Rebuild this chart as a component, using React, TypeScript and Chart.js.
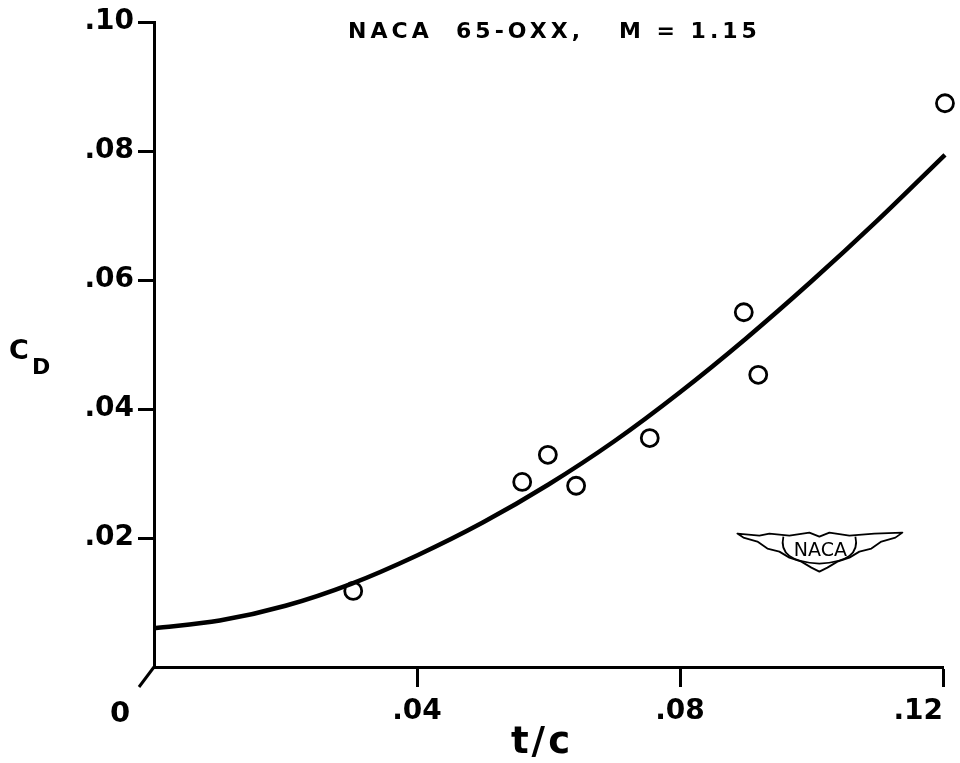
import React, { useEffect, useRef } from "react";
import { Chart, registerables } from "chart.js";

Chart.register(...registerables);

// Measured data points (t/c, C_D)
const pointTC = [0.0303, 0.056, 0.0599, 0.0642, 0.0754, 0.0897, 0.0919, 0.1203];
const pointCD = [0.0118, 0.0287, 0.0329, 0.0281, 0.0355, 0.055, 0.0453, 0.0874];

// Faired curve
const curveTC = [0, 0.01, 0.02, 0.03, 0.04, 0.05, 0.06, 0.07, 0.08, 0.09, 0.1, 0.11, 0.1203];
const curveCD = [0.006, 0.0072, 0.0095, 0.0129, 0.0173, 0.0224, 0.0283, 0.035, 0.0426, 0.0509, 0.0598, 0.0692, 0.0794];

const xTicks = [0, 0.04, 0.08, 0.12];
const yTicks = [0, 0.02, 0.04, 0.06, 0.08, 0.1];

const titleText = "NACA  65-OXX,   M = 1.15";
const xTitle = "t/c";
const yTitleMain = "C";
const yTitleSub = "D";
const logoText = "NACA";
const logoAt = { x: 0.1012, y: 0.0182 };

const FONT = "'DejaVu Sans', sans-serif";

const fmt = (v: number) => {
  const n = Math.round(v * 100);
  if (n === 0) return "";
  return "." + String(n).padStart(2, "0");
};

const decorPlugin = {
  id: "decor",
  afterDraw(chart: any) {
    const { ctx, chartArea, scales } = chart;
    const xs = scales.x;
    const ys = scales.y;
    const x0 = xs.getPixelForValue(0);
    const y0 = ys.getPixelForValue(0);
    ctx.save();
    ctx.fillStyle = "#000";
    ctx.strokeStyle = "#000";

    // diagonal origin tick
    ctx.lineWidth = 3;
    ctx.beginPath();
    ctx.moveTo(x0, y0);
    ctx.lineTo(x0 - 15, y0 + 20);
    ctx.stroke();

    // origin "0" label
    ctx.font = `bold 29px ${FONT}`;
    ctx.textAlign = "center";
    ctx.textBaseline = "alphabetic";
    ctx.fillText("0", x0 - 34, y0 + 55);

    // title
    const cx = (chartArea.left + chartArea.right) / 2 + 6;
    ctx.font = `bold 22px ${FONT}`;
    (ctx as any).letterSpacing = "4px";
    ctx.textAlign = "center";
    ctx.fillText(titleText, cx, chartArea.top + 16);

    // x title
    ctx.font = `bold 37px ${FONT}`;
    (ctx as any).letterSpacing = "3px";
    ctx.fillText(xTitle, 542, 753);

    // y title C_D
    (ctx as any).letterSpacing = "0px";
    ctx.textAlign = "left";
    ctx.font = `bold 27px ${FONT}`;
    ctx.fillText(yTitleMain, 9, 359);
    ctx.font = `bold 22px ${FONT}`;
    ctx.fillText(yTitleSub, 32, 374);

    // NACA logo
    const lx = xs.getPixelForValue(logoAt.x);
    const ly = ys.getPixelForValue(logoAt.y);
    ctx.lineWidth = 1.8;
    ctx.lineJoin = "round";
    ctx.beginPath();
    ctx.moveTo(lx - 82, ly - 16);
    ctx.lineTo(lx - 60, ly - 14);
    ctx.lineTo(lx - 50, ly - 16);
    ctx.lineTo(lx - 30, ly - 14);
    ctx.lineTo(lx - 10, ly - 17);
    ctx.lineTo(lx, ly - 13);
    ctx.lineTo(lx + 10, ly - 17);
    ctx.lineTo(lx + 30, ly - 14);
    ctx.lineTo(lx + 55, ly - 16);
    ctx.lineTo(lx + 83, ly - 17);
    ctx.lineTo(lx + 76, ly - 12);
    ctx.lineTo(lx + 62, ly - 8);
    ctx.lineTo(lx + 52, ly - 1);
    ctx.lineTo(lx + 40, ly + 2);
    ctx.lineTo(lx + 30, ly + 8);
    ctx.lineTo(lx + 18, ly + 12);
    ctx.lineTo(lx + 8, ly + 18);
    ctx.lineTo(lx, ly + 22);
    ctx.lineTo(lx - 8, ly + 18);
    ctx.lineTo(lx - 18, ly + 12);
    ctx.lineTo(lx - 30, ly + 8);
    ctx.lineTo(lx - 40, ly + 2);
    ctx.lineTo(lx - 52, ly - 1);
    ctx.lineTo(lx - 62, ly - 8);
    ctx.lineTo(lx - 76, ly - 12);
    ctx.closePath();
    ctx.stroke();
    ctx.beginPath();
    ctx.moveTo(lx - 36, ly - 13);
    ctx.quadraticCurveTo(lx - 42, ly + 12, lx, ly + 14);
    ctx.quadraticCurveTo(lx + 42, ly + 12, lx + 36, ly - 13);
    ctx.stroke();
    ctx.font = `19px ${FONT}`;
    ctx.textAlign = "center";
    ctx.textBaseline = "middle";
    ctx.fillText(logoText, lx + 1, ly + 1);
    ctx.restore();
  },
};

export default function App() {
  const ref = useRef<HTMLCanvasElement | null>(null);
  useEffect(() => {
    if (!ref.current) return;
    const tickColor = (c: any) => (c.tick && Math.abs(c.tick.value) < 1e-9 ? "rgba(0,0,0,0)" : "#000");
    const chart = new Chart(ref.current, {
      type: "scatter",
      data: {
        datasets: [
          {
            type: "line",
            data: curveTC.map((x, i) => ({ x, y: curveCD[i] })),
            borderColor: "#000",
            borderWidth: 4.5,
            pointRadius: 0,
            cubicInterpolationMode: "monotone",
            fill: false,
            clip: false,
          } as any,
          {
            data: pointTC.map((x, i) => ({ x, y: pointCD[i] })),
            pointStyle: "circle",
            pointRadius: 8.5,
            borderWidth: 2.8,
            borderColor: "#000",
            backgroundColor: "#fff",
            clip: false,
          },
        ],
      },
      options: {
        animation: false,
        responsive: true,
        maintainAspectRatio: false,
        layout: { padding: { left: 0, top: 22, right: 17, bottom: 0 } },
        plugins: { legend: { display: false }, tooltip: { enabled: false }, title: { display: false } },
        scales: {
          x: {
            type: "linear",
            min: 0,
            max: 0.12,
            afterBuildTicks: (s: any) => {
              s.ticks = xTicks.map((v) => ({ value: v }));
            },
            afterFit: (s: any) => {
              s.height = 96;
              s.paddingLeft = 0;
              s.paddingRight = 0;
            },
            ticks: {
              callback: (v: any) => fmt(Number(v)),
              color: "#000",
              font: { family: FONT, size: 28, weight: "bold" },
              padding: 8,
              align: "inner",
              maxRotation: 0,
              autoSkip: false,
            },
            grid: {
              drawOnChartArea: false,
              drawTicks: true,
              tickLength: 20,
              tickWidth: 3,
              tickColor,
              color: "#000",
            },
            border: { display: true, color: "#000", width: 3 },
          },
          y: {
            type: "linear",
            min: 0,
            max: 0.1,
            afterBuildTicks: (s: any) => {
              s.ticks = yTicks.map((v) => ({ value: v }));
            },
            afterFit: (s: any) => {
              s.width = 154;
              s.paddingTop = 0;
              s.paddingBottom = 0;
            },
            ticks: {
              callback: (v: any) => fmt(Number(v)),
              color: "#000",
              font: { family: FONT, size: 28, weight: "bold" },
              padding: 4,
              autoSkip: false,
            },
            grid: {
              drawOnChartArea: false,
              drawTicks: true,
              tickLength: 16,
              tickWidth: 3,
              tickColor,
              color: "#000",
            },
            border: { display: true, color: "#000", width: 3 },
          },
        },
      } as any,
      plugins: [decorPlugin],
    });
    return () => chart.destroy();
  }, []);
  return (
    <div style={{ position: "fixed", left: 0, top: 0, width: 960, height: 763, background: "#fff" }}>
      <canvas ref={ref} />
    </div>
  );
}
